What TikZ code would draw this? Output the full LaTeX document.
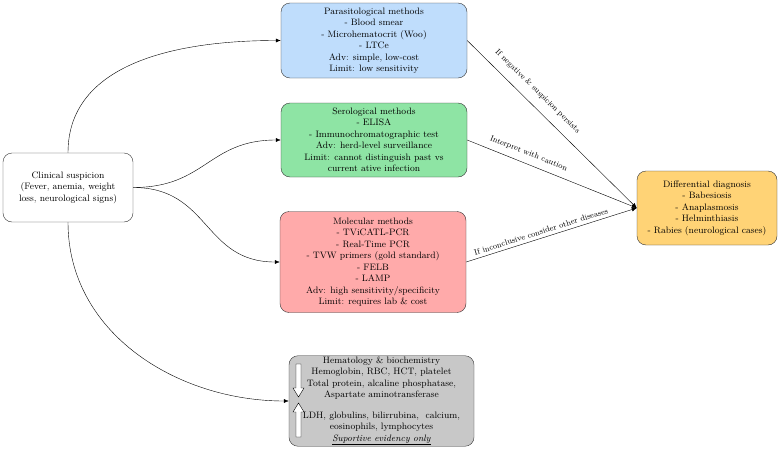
\documentclass[tikz,border=0pt]{standalone}
\usetikzlibrary{arrows.meta,positioning}
\definecolor{parablue}{RGB}{191,221,252}
\definecolor{serogreen}{RGB}{142,228,164}
\definecolor{molpink}{RGB}{255,170,170}
\definecolor{diffgold}{RGB}{255,211,118}
\definecolor{hemagray}{RGB}{200,200,200}
\tikzset{
 box/.style={draw=black!80, rounded corners=9pt, align=center, inner sep=1pt,
  font=\fontsize{9.3}{11.5}\selectfont},
 link/.style={-{Latex[length=5pt,width=4pt]}},
 tag/.style={sloped, above, font=\fontsize{8}{10}\selectfont}
}

\begin{document}
\begin{tikzpicture}[x=1pt,y=-1pt]
\useasboundingbox (0,0) rectangle (780,450);
\node[box, fill=white, minimum width=130, minimum height=69] (clin) at (68,187.5)
 {Clinical suspicion\\(Fever, anemia, weight\\loss, neurological signs)};
\node[box, fill=parablue, minimum width=186, minimum height=75] (para) at (374,40.5)
 {Parasitological methods\\- Blood smear\\- Microhematocrit (Woo)\\- LTCe\\Adv: simple, low-cost\\Limit: low sensitivity};
\node[box, fill=serogreen, minimum width=186, minimum height=74] (sero) at (374,140)
 {Serological methods\\- ELISA\\- Immunochromatographic test\\Adv: herd-level surveillance\\Limit: cannot distinguish past vs\\current ative infection};
\node[box, fill=molpink, minimum width=186, minimum height=101] (mol) at (373,262)
 {Molecular methods\\- TViCATL-PCR\\- Real-Time PCR\\- TVW primers (gold standard)\\- FELB\\- LAMP\\Adv: high sensitivity/specificity\\Limit: requires lab \& cost};
\node[box, fill=diffgold, minimum width=140, minimum height=74] (diff) at (707,208)
 {Differential diagnosis\\- Babesiosis\\- Anaplasmosis\\- Helminthiasis\\- Rabies (neurological cases)};
\node[box, fill=hemagray, minimum width=185, minimum height=88] (hema) at (381.5,401)
 {Hematology \& biochemistry\\Hemoglobin, RBC, HCT, platelet\\Total protein, alcaline phosphatase,\\Aspartate aminotransferase\\[9pt]
  LDH, globulins, bilirrubina,\ \ calcium,\\eosinophils, lymphocytes\\\underline{\textit{Suportive evidency only}}};
\draw[fill=white] (296,364) -- (301,364) -- (301,388) -- (304,388) -- (298.5,397) -- (293,388) -- (296,388) -- cycle;
\draw[fill=white] (296,437) -- (301,437) -- (301,412) -- (304,412) -- (298.5,403) -- (293,412) -- (296,412) -- cycle;
\draw[link] (clin.north) to[out=90,in=180] (para.west);
\draw[link] (clin.east) to[out=0,in=180,looseness=1.2] (sero.west);
\draw[link] (clin.east) to[out=0,in=180,looseness=1.2] (mol.west);
\draw[link] (clin.south) to[out=270,in=180] (hema.west);
\draw[link] (para.east) -- node[tag, pos=0.36, yshift=6pt]{If negative \& suspicion persists} (diff.west);
\draw[link] (sero.east) -- node[tag, pos=0.34, yshift=3pt]{Interpret with caution} (diff.west);
\draw[link] (mol.east) -- node[tag, pos=0.45]{If inconclusive consider other diseases} (diff.west);
\end{tikzpicture}
\end{document}
